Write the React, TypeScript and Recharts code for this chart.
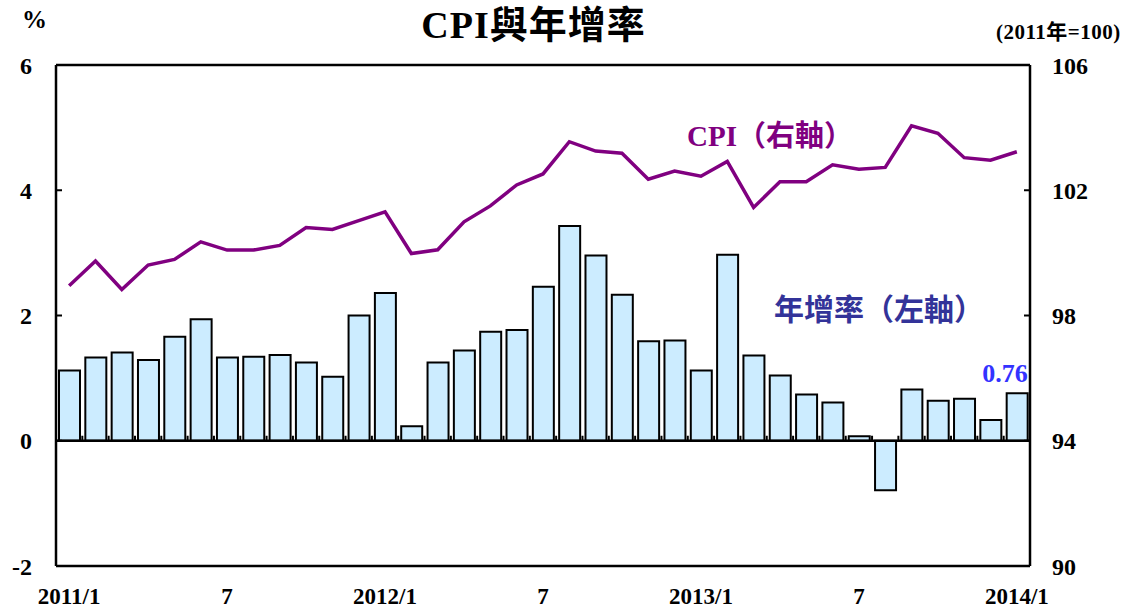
import React from 'react';
import {
  ComposedChart,
  Bar,
  Line,
  XAxis,
  YAxis,
  ReferenceLine,
  LabelList,
} from 'recharts';

// months 2011/1 .. 2014/1
const months = [
  '2011/1', '2011/2', '2011/3', '2011/4', '2011/5', '2011/6', '2011/7', '2011/8', '2011/9', '2011/10', '2011/11', '2011/12',
  '2012/1', '2012/2', '2012/3', '2012/4', '2012/5', '2012/6', '2012/7', '2012/8', '2012/9', '2012/10', '2012/11', '2012/12',
  '2013/1', '2013/2', '2013/3', '2013/4', '2013/5', '2013/6', '2013/7', '2013/8', '2013/9', '2013/10', '2013/11', '2013/12',
  '2014/1',
];

// 年增率 (%), left axis
const yoyRate = [
  1.12, 1.33, 1.41, 1.29, 1.66, 1.94, 1.33, 1.34, 1.37, 1.25, 1.02, 2.0,
  2.36, 0.23, 1.25, 1.44, 1.74, 1.77, 2.46, 3.43, 2.96, 2.33, 1.59, 1.6,
  1.12, 2.97, 1.36, 1.04, 0.74, 0.61, 0.07, -0.79, 0.82, 0.64, 0.67, 0.33,
  0.76,
];

// CPI (2011=100), right axis
const cpi = [
  98.95, 99.74, 98.83, 99.61, 99.79, 100.35, 100.09, 100.09, 100.24, 100.81, 100.75, 101.03,
  101.31, 99.98, 100.1, 100.99, 101.5, 102.17, 102.52, 103.55, 103.25, 103.18, 102.35, 102.61,
  102.45, 102.92, 101.45, 102.27, 102.27, 102.81, 102.67, 102.73, 104.06, 103.82, 103.04, 102.96,
  103.23,
];

const xLabels: Record<string, string> = {
  '2011/1': '2011/1',
  '2011/7': '7',
  '2012/1': '2012/1',
  '2012/7': '7',
  '2013/1': '2013/1',
  '2013/7': '7',
  '2014/1': '2014/1',
};

const leftTicks = [-2, 0, 2, 4, 6];
const rightTicks = [90, 94, 98, 102, 106];

const data = months.map((m, i) => ({ month: m, rate: yoyRate[i], cpi: cpi[i] }));

const W = 1137;
const H = 609;
const PLOT_LEFT = 56;
const PLOT_RIGHT = 1030;
const PLOT_TOP = 65;
const PLOT_BOTTOM = 566;
const PLOT_W = PLOT_RIGHT - PLOT_LEFT;
const PLOT_H = PLOT_BOTTOM - PLOT_TOP;
const ZERO_Y = PLOT_TOP + (6 / 8) * PLOT_H;
const BAND = PLOT_W / months.length;

const SERIF = '"Liberation Serif", "Times New Roman", serif';
const CJK = '"Liberation Serif", "Noto Sans CJK TC", serif';

function XTick(props: any) {
  const { x, payload, index } = props;
  const label = xLabels[payload.value];
  const bx = x - BAND / 2;
  return (
    <g>
      {index > 0 && <line x1={bx} x2={bx} y1={ZERO_Y} y2={ZERO_Y - 5} stroke="#000" strokeWidth={2} />}
      {label && (
        <text x={x} y={PLOT_BOTTOM + 38} textAnchor="middle" fontFamily={SERIF} fontWeight="bold" fontSize={23} fill="#000">
          {label}
        </text>
      )}
    </g>
  );
}

function LastLabel(props: any) {
  const { x, y, width, value, index } = props;
  if (index !== months.length - 1) return null;
  return (
    <text x={x + width} y={y - 11} textAnchor="end" fontFamily={SERIF} fontWeight="bold" fontSize={26} fill="#3333ff">
      {Number(value).toFixed(2)}
    </text>
  );
}

export default function App() {
  return (
    <div style={{ position: 'absolute', left: 0, top: 0, width: W, height: H, background: '#fff' }}>
      <ComposedChart
        width={W}
        height={H}
        data={data}
        margin={{ top: PLOT_TOP, right: W - PLOT_RIGHT - 60, bottom: 0, left: 0 }}
      >
        <XAxis
          dataKey="month"
          interval={0}
          tick={<XTick />}
          tickLine={false}
          height={H - PLOT_BOTTOM}
          axisLine={{ stroke: '#000', strokeWidth: 2.5 }}
        />
        <YAxis
          yAxisId="left"
          orientation="left"
          width={PLOT_LEFT}
          domain={[-2, 6]}
          ticks={leftTicks}
          interval={0}
          tickSize={-6}
          tickMargin={30}
          axisLine={{ stroke: '#000', strokeWidth: 2.5 }}
          tickLine={{ stroke: '#000', strokeWidth: 2 }}
          tick={{ fill: '#000', fontFamily: SERIF, fontWeight: 'bold', fontSize: 24 }}
        />
        <YAxis
          yAxisId="right"
          orientation="right"
          width={60}
          domain={[90, 106]}
          ticks={rightTicks}
          interval={0}
          tickSize={-6}
          tickMargin={28}
          axisLine={{ stroke: '#000', strokeWidth: 2.5 }}
          tickLine={{ stroke: '#000', strokeWidth: 2 }}
          tick={{ fill: '#000', fontFamily: SERIF, fontWeight: 'bold', fontSize: 24, textAnchor: 'start' }}
        />
        <ReferenceLine yAxisId="left" y={6} stroke="#000" strokeWidth={2.5} />
        <Bar
          yAxisId="left"
          dataKey="rate"
          barSize={21}
          fill="#ccecff"
          stroke="#000"
          strokeWidth={2}
          isAnimationActive={false}
        >
          <LabelList dataKey="rate" content={<LastLabel />} />
        </Bar>
        <ReferenceLine yAxisId="left" y={0} stroke="#000" strokeWidth={2.5} />
        <Line
          yAxisId="right"
          dataKey="cpi"
          type="linear"
          stroke="#800080"
          strokeWidth={3.5}
          dot={false}
          isAnimationActive={false}
        />
      </ComposedChart>

      <div style={{ position: 'absolute', left: 0, width: W, top: 2, textAlign: 'center', fontFamily: CJK, fontWeight: 'bold', fontSize: 38, lineHeight: '46px' }}>
        <span style={{ position: 'relative', left: -35, letterSpacing: 1 }}>CPI與年增率</span>
      </div>
      <div style={{ position: 'absolute', left: 22, top: 6, fontFamily: SERIF, fontWeight: 'bold', fontSize: 25 }}>%</div>
      <div style={{ position: 'absolute', left: 996, top: 15, fontFamily: CJK, fontWeight: 'bold', fontSize: 21, letterSpacing: 0.5, whiteSpace: 'nowrap' }}>(2011年=100)</div>
      <div style={{ position: 'absolute', left: 687, top: 112, fontFamily: CJK, fontWeight: 'bold', fontSize: 29, color: '#800080', whiteSpace: 'nowrap' }}>
        CPI（右軸）
      </div>
      <div style={{ position: 'absolute', left: 774, top: 285, fontFamily: CJK, fontWeight: 'bold', fontSize: 30, color: '#333399', whiteSpace: 'nowrap' }}>
        年增率（左軸）
      </div>
    </div>
  );
}
